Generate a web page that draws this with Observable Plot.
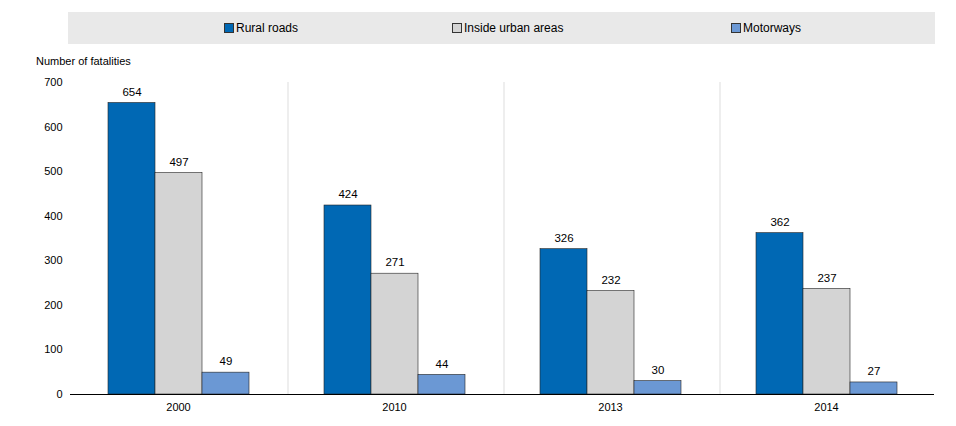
<!DOCTYPE html>
<html><head>
<script src="https://cdn.jsdelivr.net/npm/d3@7"></script>
<script src="https://cdn.jsdelivr.net/npm/@observablehq/plot@0.6"></script>
<style>
body{margin:0;background:#fff;font-family:"Liberation Sans",Arial,sans-serif;}
#legend{position:absolute;left:68px;top:12px;width:867px;height:32px;background:#e9e9e9;font-size:12px;}
.item{position:absolute;top:9px;display:flex;align-items:center;}
.sw{width:8px;height:8px;border:1px solid #333;margin-right:2px;}
#ylab{position:absolute;left:36px;top:55px;font-size:11px;}
#chart{position:absolute;left:0;top:70px;}
</style></head><body>
<div id="legend"></div>
<div id="ylab">Number of fatalities</div>
<div id="chart"></div>
<script>
const years = ["2000","2010","2013","2014"];
const series = ["Rural roads","Inside urban areas","Motorways"];
const colors = ["#0068b4","#d4d4d4","#6b98d4"];
const rural = [654,424,326,362];
const urban = [497,271,232,237];
const motorways = [49,44,30,27];
const vals = [rural,urban,motorways];
const data = [];
years.forEach((y,i)=>series.forEach((s,j)=>data.push({year:y,series:s,value:vals[j][i]})));

const lg = document.getElementById("legend");
[224,452,731].forEach((x,j)=>{
  const d=document.createElement("div");d.className="item";d.style.left=(x-68)+"px";
  d.innerHTML=`<span class="sw" style="background:${colors[j]}"></span>${series[j]}`;lg.appendChild(d);
});

const font='"Liberation Sans",Arial,sans-serif';
const plot = Plot.plot({
  width:956,height:356,marginTop:12,marginBottom:32,marginLeft:68,marginRight:21,
  style:{fontFamily:font,fontSize:"11px",color:"#000"},
  fx:{domain:years,padding:0,label:null,axis:"bottom",tickSize:0},
  x:{domain:series,paddingInner:0,paddingOuter:0.76,axis:null},
  y:{domain:[0,700],ticks:d3.range(0,701,100),label:null,tickSize:0,tickPadding:8},
  color:{domain:series,range:colors},
  marks:[
    Plot.ruleX(data.filter(d=>d.series==="Rural roads" && d.year!=="2000"),{fx:"year",x:"series",dx:-60,stroke:"#ddd"}),
    Plot.barY(data,{fx:"year",x:"series",y:"value",fill:"series",stroke:"#222",strokeWidth:0.6}),
    Plot.text(data,{fx:"year",x:"series",y:"value",text:"value",dy:-11,fontSize:11.5}),
    Plot.ruleY([0],{stroke:"#000"})
  ]
});
document.getElementById("chart").appendChild(plot);
</script></body></html>
